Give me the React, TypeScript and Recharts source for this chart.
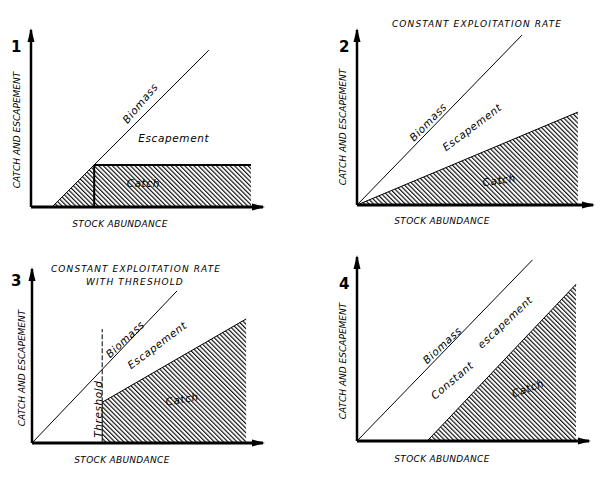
import React from "react";
import { ComposedChart, Area, Line, XAxis, YAxis, ReferenceDot, ReferenceLine } from "recharts";

// Panel 1: fixed escapement (catch capped)
const biomass1X = [9, 76];
const biomass1Y = [0, 67];
const catch1X = [9, 27, 94];
const catch1Y = [0, 18, 18];

// Panel 2: constant exploitation rate
const biomass2X = [0, 70.5];
const biomass2Y = [0, 72.6];
const catch2X = [0, 94.4];
const catch2Y = [0, 39.7];

// Panel 3: constant exploitation rate with threshold
const biomass3X = [0, 62];
const biomass3Y = [0, 65];
const catch3X = [30, 91.5];
const catch3Y = [17.4, 53];
const threshold3 = 30;
const thresholdTop3 = 48.7;

// Panel 4: constant escapement
const biomass4X = [0, 75];
const biomass4Y = [0, 77.4];
const catch4X = [30, 93.6];
const catch4Y = [0, 67];

const toPoints = (xs: number[], ys: number[]) => xs.map((x, i) => ({ x, y: ys[i] }));

const PX = 2.34; // pixels per unit on both axes
const FONT = "'DejaVu Sans', sans-serif";

interface Note {
  text: string;
  x: number;
  y: number;
  angle: number;
}

interface Panel {
  id: string;
  left: number;
  top: number;
  margin: { top: number; right: number; bottom: number; left: number };
  biomass: { x: number; y: number }[];
  catchPts: { x: number; y: number }[];
  catchStroke: number;
  notes: Note[];
}

const W = 300;
const H = 242;

const textShape = (n: Note) => (props: any) => (
  <text
    x={props.cx}
    y={props.cy}
    transform={`rotate(${n.angle} ${props.cx} ${props.cy})`}
    textAnchor="middle"
    dominantBaseline="central"
    fontFamily={FONT}
    fontStyle="italic"
    fontSize={10.5}
    letterSpacing={0.6}
    fill="#000"
  >
    {n.text}
  </text>
);

const xArrow = (props: any) => (
  <polygon
    points={`${props.cx + 2},${props.cy} ${props.cx - 11},${props.cy - 3.5} ${props.cx - 11},${props.cy + 3.5}`}
    fill="#000"
  />
);

const yArrow = (props: any) => (
  <polygon
    points={`${props.cx},${props.cy - 2} ${props.cx - 3.5},${props.cy + 12} ${props.cx + 3.5},${props.cy + 12}`}
    fill="#000"
  />
);

const panels: Panel[] = [
  {
    id: "p1",
    left: 0,
    top: 0,
    margin: { top: 30, right: 37, bottom: 35, left: 31 },
    biomass: toPoints(biomass1X, biomass1Y),
    catchPts: toPoints(catch1X, catch1Y),
    catchStroke: 0,
    notes: [
      { text: "Biomass", x: 46.6, y: 44.4, angle: -50 },
      { text: "Escapement", x: 61, y: 29.5, angle: 0 },
      { text: "Catch", x: 48, y: 10.3, angle: 0 },
    ],
  },
  {
    id: "p2",
    left: 300,
    top: 0,
    margin: { top: 30, right: 7, bottom: 37, left: 57 },
    biomass: toPoints(biomass2X, biomass2Y),
    catchPts: toPoints(catch2X, catch2Y),
    catchStroke: 1,
    notes: [
      { text: "Biomass", x: 30.3, y: 35.5, angle: -46 },
      { text: "Escapement", x: 49.1, y: 33.3, angle: -37 },
      { text: "Catch", x: 60.7, y: 10.7, angle: -8 },
    ],
  },
  {
    id: "p3",
    left: 0,
    top: 242,
    margin: { top: 27, right: 37, bottom: 41, left: 32 },
    biomass: toPoints(biomass3X, biomass3Y),
    catchPts: toPoints(catch3X, catch3Y),
    catchStroke: 1,
    notes: [
      { text: "Biomass", x: 39.7, y: 44.4, angle: -43 },
      { text: "Escapement", x: 53.4, y: 41.9, angle: -37 },
      { text: "Catch", x: 64.1, y: 18.8, angle: -10 },
      { text: "Threshold", x: 28.2, y: 14.5, angle: -90 },
    ],
  },
  {
    id: "p4",
    left: 300,
    top: 242,
    margin: { top: 15, right: 11, bottom: 43, left: 57 },
    biomass: toPoints(biomass4X, biomass4Y),
    catchPts: toPoints(catch4X, catch4Y),
    catchStroke: 1,
    notes: [
      { text: "Biomass", x: 36.3, y: 41, angle: -43 },
      { text: "Constant", x: 40.6, y: 26, angle: -40 },
      { text: "escapement", x: 63.2, y: 50.9, angle: -43 },
      { text: "Catch", x: 73, y: 22.6, angle: -20 },
    ],
  },
];

function PanelChart({ p }: { p: Panel }) {
  const xMax = (W - p.margin.left - p.margin.right) / PX;
  const yMax = (H - p.margin.top - p.margin.bottom) / PX;
  return (
    <div style={{ position: "absolute", left: p.left, top: p.top, width: W, height: H }}>
      <ComposedChart width={W} height={H} margin={p.margin}>
        <defs>
          <pattern
            id={`hatch-${p.id}`}
            patternUnits="userSpaceOnUse"
            width={3.2}
            height={3.2}
            patternTransform="rotate(-45)"
          >
            <line x1={0.6} y1={0} x2={0.6} y2={3.2} stroke="#000" strokeWidth={1.1} />
          </pattern>
        </defs>
        <XAxis type="number" dataKey="x" domain={[0, xMax]} allowDataOverflow hide />
        <YAxis type="number" dataKey="y" domain={[0, yMax]} allowDataOverflow hide />
        <Area
          data={p.catchPts}
          dataKey="y"
          type="linear"
          baseValue={0}
          fill={`url(#hatch-${p.id})`}
          fillOpacity={1}
          stroke={p.catchStroke ? "#000" : "none"}
          strokeWidth={p.catchStroke}
          dot={false}
          activeDot={false}
          isAnimationActive={false}
        />
        <Line
          data={p.biomass}
          dataKey="y"
          type="linear"
          stroke="#000"
          strokeWidth={1}
          dot={false}
          activeDot={false}
          isAnimationActive={false}
        />
        {p.id === "p1" && (
          <ReferenceLine
            segment={[
              { x: catch1X[1], y: 0 },
              { x: catch1X[1], y: catch1Y[1] },
            ]}
            stroke="#000"
            strokeWidth={2}
          />
        )}
        {p.id === "p1" && (
          <ReferenceLine
            segment={[
              { x: catch1X[1], y: catch1Y[1] },
              { x: catch1X[2], y: catch1Y[2] },
            ]}
            stroke="#000"
            strokeWidth={2}
          />
        )}
        {p.id === "p3" && (
          <ReferenceLine
            segment={[
              { x: threshold3, y: catch3Y[0] },
              { x: threshold3, y: thresholdTop3 },
            ]}
            stroke="#000"
            strokeWidth={1}
            strokeDasharray="5 2"
          />
        )}
        {p.id === "p3" && (
          <ReferenceLine
            segment={[
              { x: threshold3, y: 0 },
              { x: threshold3, y: catch3Y[0] },
            ]}
            stroke="#000"
            strokeWidth={1}
          />
        )}
        <ReferenceLine
          segment={[
            { x: 0, y: 0 },
            { x: xMax, y: 0 },
          ]}
          stroke="#000"
          strokeWidth={3}
          ifOverflow="visible"
        />
        <ReferenceLine
          segment={[
            { x: 0, y: 0 },
            { x: 0, y: yMax },
          ]}
          stroke="#000"
          strokeWidth={2.5}
          ifOverflow="visible"
        />
        {p.notes.map((n) => (
          <ReferenceDot key={n.text} x={n.x} y={n.y} r={0} shape={textShape(n)} />
        ))}
        <ReferenceDot x={xMax} y={0} r={0} shape={xArrow} ifOverflow="visible" />
        <ReferenceDot x={0} y={yMax} r={0} shape={yArrow} ifOverflow="visible" />
      </ComposedChart>
    </div>
  );
}

const capsStyle: React.CSSProperties = {
  position: "absolute",
  fontFamily: FONT,
  fontStyle: "italic",
  fontSize: 9,
  whiteSpace: "nowrap",
  color: "#000",
  lineHeight: 1,
};

function Caption({ x, y, text, rotate = 0, size = 9, spacing = 0.8 }: any) {
  return (
    <div
      style={{
        ...capsStyle,
        fontSize: size,
        letterSpacing: spacing,
        left: x,
        top: y,
        transform: `translate(-50%, -50%) rotate(${rotate}deg)`,
      }}
    >
      {text}
    </div>
  );
}

function PanelNumber({ x, y, text }: any) {
  return (
    <div
      style={{
        position: "absolute",
        left: x,
        top: y,
        fontFamily: FONT,
        fontSize: 15,
        fontWeight: "bold",
        lineHeight: 1,
        color: "#000",
      }}
    >
      {text}
    </div>
  );
}

export default function App() {
  return (
    <div
      style={{
        position: "absolute",
        left: 0,
        top: 0,
        width: 600,
        height: 484,
        background: "#fff",
        overflow: "hidden",
      }}
    >
      {panels.map((p) => (
        <PanelChart key={p.id} p={p} />
      ))}

      <PanelNumber x={11} y={40} text="1" />
      <PanelNumber x={339} y={40} text="2" />
      <PanelNumber x={11} y={274} text="3" />
      <PanelNumber x={339} y={277} text="4" />

      <Caption x={477} y={24} text="CONSTANT EXPLOITATION RATE" spacing={1.1} />
      <Caption x={136} y={269} text="CONSTANT EXPLOITATION RATE" spacing={1.1} />
      <Caption x={135} y={282} text="WITH THRESHOLD" spacing={1.1} />

      <Caption x={17} y={130} text="CATCH AND ESCAPEMENT" rotate={-90} spacing={0} />
      <Caption x={343} y={127} text="CATCH AND ESCAPEMENT" rotate={-90} spacing={0} />
      <Caption x={22} y={368} text="CATCH AND ESCAPEMENT" rotate={-90} spacing={0} />
      <Caption x={343} y={361} text="CATCH AND ESCAPEMENT" rotate={-90} spacing={0} />

      <Caption x={120} y={224} text="STOCK ABUNDANCE" spacing={0.3} />
      <Caption x={442} y={221} text="STOCK ABUNDANCE" spacing={0.3} />
      <Caption x={122} y={460} text="STOCK ABUNDANCE" spacing={0.3} />
      <Caption x={442} y={459} text="STOCK ABUNDANCE" spacing={0.3} />
    </div>
  );
}
